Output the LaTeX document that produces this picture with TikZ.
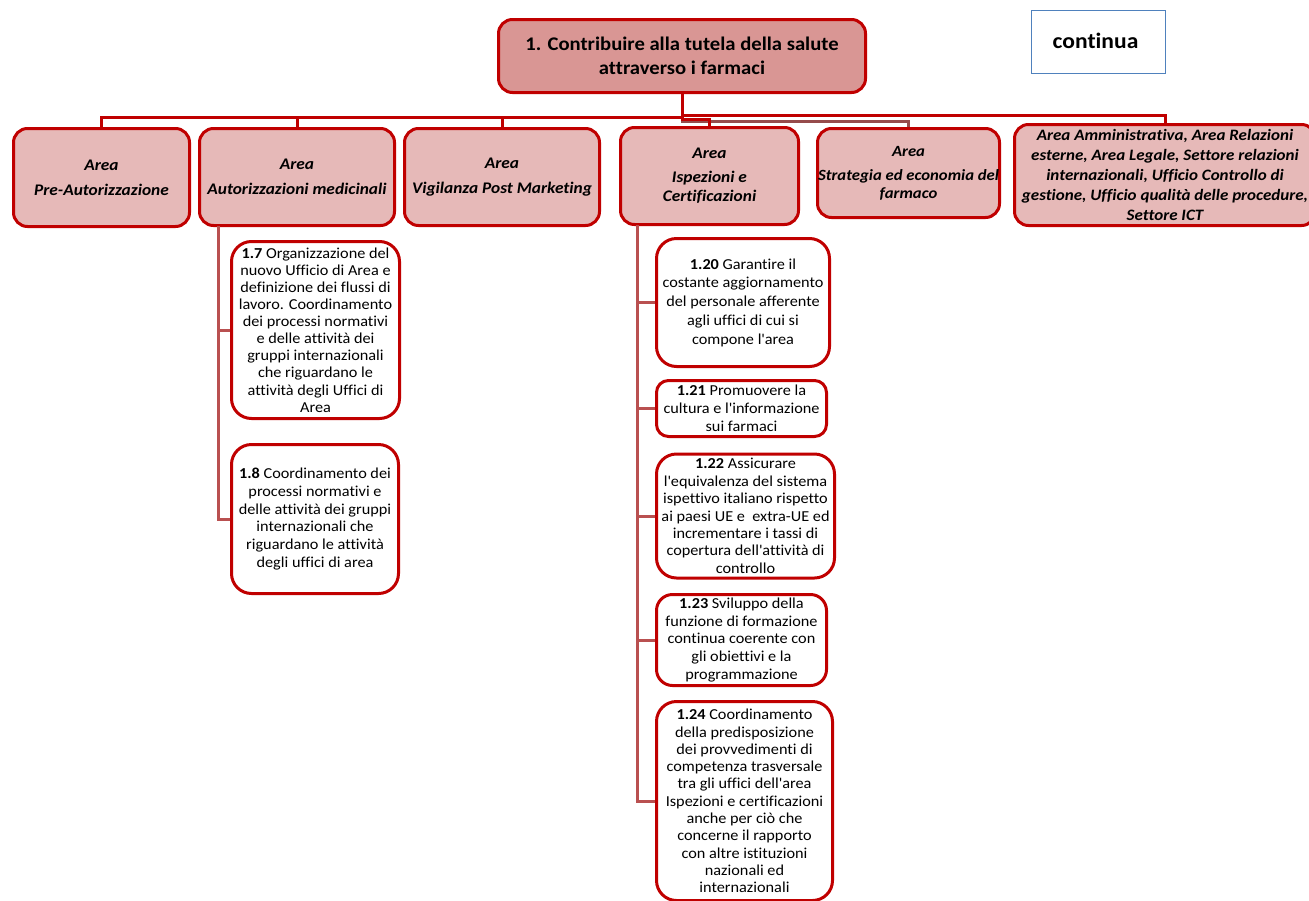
\documentclass[tikz,border=0pt]{standalone}
\usepackage{fontspec}
\setmainfont{Carlito}[Ligatures={TeX,NoCommon},FakeStretch=1.07]
\newcommand{\aq}{\textquotesingle}
\definecolor{bred}{HTML}{C00000}
\definecolor{rootfill}{HTML}{D99694}
\definecolor{areafill}{HTML}{E6B9B8}
\definecolor{subline}{RGB}{185,80,80}
\definecolor{greyline}{RGB}{150,75,75}
\definecolor{blueb}{HTML}{4F81BD}
\begin{document}
\begin{tikzpicture}[x=1pt,y=-1pt,
 box/.style={draw=bred,line width=3pt,rounded corners=14pt,inner sep=0pt,align=center,text=black},
 rootbox/.style={box,fill=rootfill,font=\fontsize{19.3}{24}\selectfont\bfseries},
 areabox/.style={box,fill=areafill,font=\fontsize{16.2}{19}\selectfont\bfseries\itshape},
 goalbox/.style={box,fill=white,rounded corners=20pt,font=\fontsize{15.2}{17.8}\selectfont},
 bus/.style={draw=bred,line width=3pt},
 greybus/.style={draw=greyline,line width=3pt},
 sub/.style={draw=subline,line width=3pt}]
\useasboundingbox (0,0) rectangle (1309,900);

% root and note
\node[rootbox,minimum width=367pt,minimum height=73pt] (root) at (682,56)
  {1. Contribuire alla tutela della salute\\attraverso i farmaci};
\node[draw=blueb,line width=1.5pt,fill=white,minimum width=134pt,minimum height=63pt,inner sep=0pt,
  font=\fontsize{22}{26}\selectfont\bfseries] (cont) at (1098.5,42) {\raisebox{3pt}{continua}\hspace*{6pt}};

% area boxes
\node[areabox,minimum width=176pt,minimum height=98pt] (pre) at (101.5,177.5)
  {Area\\[6pt]Pre-Autorizzazione};
\node[areabox,minimum width=195pt,minimum height=97pt] (aut) at (297,177)
  {Area\\[6pt]Autorizzazioni medicinali};
\node[areabox,minimum width=195pt,minimum height=97pt] (vig) at (502,177)
  {Area\\[6pt]Vigilanza Post Marketing};
\node[areabox,minimum width=178pt,minimum height=97pt] (isp) at (709.5,176)
  {Area\\[5pt]Ispezioni e\\Certificazioni};
\node[areabox,minimum width=182pt,minimum height=89pt,font=\fontsize{15.6}{18}\selectfont\bfseries\itshape] (str) at (908.5,173)
  {Area\\[6pt]Strategia ed economia del\\farmaco};
\node[areabox,minimum width=301pt,minimum height=101pt,font=\fontsize{15.9}{20}\selectfont\bfseries\itshape] (amm) at (1165,175)
  {Area Amministrativa, Area Relazioni\\esterne, Area Legale, Settore relazioni\\internazionali, Ufficio Controllo di\\gestione, Ufficio qualità delle procedure,\\Settore ICT};

% goal boxes
\node[goalbox,minimum width=168pt,minimum height=177pt,font=\fontsize{15.2}{17.1}\selectfont] (g17) at (315.5,330)
  {\textbf{1.7} Organizzazione del\\nuovo Ufficio di Area e\\definizione dei flussi di\\lavoro. Coordinamento\\dei processi normativi\\e delle attività dei\\gruppi internazionali\\che riguardano le\\attività degli Uffici di\\Area};
\node[goalbox,minimum width=167pt,minimum height=149pt] (g18) at (315,519)
  {\textbf{1.8} Coordinamento dei\\processi normativi e\\delle attività dei gruppi\\internazionali che\\riguardano le attività\\degli uffici di area};
\node[goalbox,minimum width=173pt,minimum height=128pt,font=\fontsize{15.2}{18.75}\selectfont] (g120) at (743,302.5)
  {\textbf{1.20} Garantire il\\costante aggiornamento\\del personale afferente\\agli uffici di cui si\\compone l\aq area};
\node[goalbox,rounded corners=12pt,minimum width=170pt,minimum height=56pt,font=\fontsize{15.2}{18}\selectfont] (g121) at (741.5,408.5)
  {\textbf{1.21} Promuovere la\\cultura e l\aq informazione\\sui farmaci};
\node[goalbox,minimum width=178pt,minimum height=124pt,font=\fontsize{15.2}{17.4}\selectfont] (g122) at (745.5,516)
  {\textbf{1.22} Assicurare\\l\aq equivalenza del sistema\\ispettivo italiano rispetto\\ai paesi UE e\ \ extra-UE ed\\incrementare i tassi di\\copertura dell\aq attività di\\controllo};
\node[goalbox,rounded corners=16pt,minimum width=170pt,minimum height=91pt] (g123) at (741.5,640)
  {\textbf{1.23} Sviluppo della\\funzione di formazione\\continua coerente con\\gli obiettivi e la\\programmazione};
\node[goalbox,minimum width=176pt,minimum height=199pt,font=\fontsize{15.2}{17.3}\selectfont] (g124) at (744.5,801)
  {\textbf{1.24} Coordinamento\\della predisposizione\\dei provvedimenti di\\competenza trasversale\\tra gli uffici dell\aq area\\Ispezioni e certificazioni\\anche per ciò che\\concerne il rapporto\\con altre istituzioni\\nazionali ed\\internazionali};

% top-level connectors
\draw[greybus] (root.south) -- ++(0,27) -| (str.north);
\draw[bus] (root.south) -- ++(0,23) -| (pre.north);
\draw[bus] (root.south) -- ++(0,23) -| (aut.north);
\draw[bus] (root.south) -- ++(0,23) -| (vig.north);
\draw[bus] (root.south) -- ++(0,25) -| (isp.north);
\draw[bus] (root.south) -- ++(0,21) -| (amm.north);

% sub connectors
\coordinate (autx) at (218,226);
\coordinate (ispx) at (637,225);
\draw[sub] (autx) |- (g17.west);
\draw[sub] (autx) |- (g18.west);
\draw[sub] (ispx) |- (g120.west);
\draw[sub] (ispx) |- (g121.west);
\draw[sub] (ispx) |- (g122.west);
\draw[sub] (ispx) |- (g123.west);
\draw[sub] (ispx) |- (g124.west);
\end{tikzpicture}
\end{document}
